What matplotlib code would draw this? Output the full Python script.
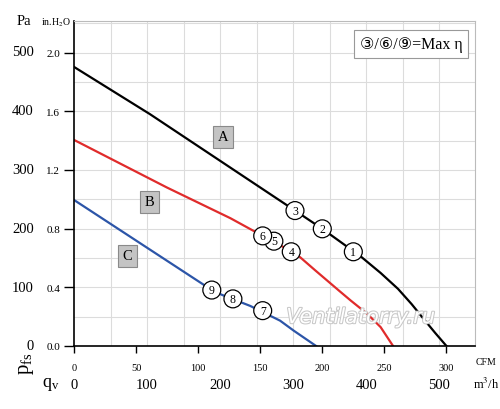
import numpy as np
import matplotlib
matplotlib.use("Agg")
from matplotlib import pyplot as plt
import matplotlib.transforms as mtransforms
import matplotlib.patheffects as pe

plt.rcParams['font.family'] = ['Liberation Serif', 'DejaVu Sans', 'Noto Sans CJK JP']
plt.rcParams['mathtext.fontset'] = 'stix'

PA_PER_INH2O = 249.09
M3H_PER_CFM = 1.699

# curve A (black), B (red), C (blue): flow in CFM, static pressure in Pa
a_cfm = [0, 61, 158, 178, 200, 231, 247, 261, 272, 282, 291, 300]
a_pa = [474, 394, 258, 230, 199, 152, 124, 97, 71, 45, 22, 0]
b_cfm = [0, 75, 126, 152, 160, 182, 194, 214, 223, 236, 247, 257]
b_pa = [350, 269, 217, 187, 179, 151, 129, 93, 77, 55, 32, 0]
c_cfm = [0, 111, 119, 142, 166, 177, 195]
c_pa = [248, 95, 87, 68, 43, 26, 0]

# operating points
pt_labels = ['1', '2', '3', '4', '5', '6', '7', '8', '9']
pt_cfm = [225, 200, 178, 175, 161, 152, 152, 128, 111]
pt_pa = [160, 199, 230, 160, 178, 187, 60, 80, 95]

curve_names = ['A', 'B', 'C']
name_cfm = [120, 61, 43]
name_pa = [355, 245, 153]

pa_ticks = [0, 100, 200, 300, 400, 500]
inh2o_ticks = [0.0, 0.4, 0.8, 1.2, 1.6, 2.0]
cfm_ticks = [0, 50, 100, 150, 200, 250, 300]
m3h_ticks = [0, 100, 200, 300, 400, 500]

fig = plt.figure(figsize=(5, 4.1), dpi=100)
ax = fig.add_axes([0.148, 0.1537, 0.802, 0.7927])
ax.set_xlim(0, 323)
ax.set_ylim(0, 552)

# grid every 50 m3/h and every 0.2 in.H2O
for v in np.arange(50, 551, 50):
    ax.axvline(v / M3H_PER_CFM, color='#dcdcdc', lw=0.8, zorder=0)
for v in np.arange(0.2, 2.21, 0.2):
    ax.axhline(v * PA_PER_INH2O, color='#dcdcdc', lw=0.8, zorder=0)

ax.plot(a_cfm, a_pa, color='black', lw=1.6, zorder=2)
ax.plot(b_cfm, b_pa, color='#e02b2b', lw=1.6, zorder=2)
ax.plot(c_cfm, c_pa, color='#2c55a8', lw=1.6, zorder=2)

for lab, x, y in zip(pt_labels, pt_cfm, pt_pa):
    ax.text(x, y, lab, ha='center', va='center', fontsize=8.5, zorder=4,
            bbox=dict(boxstyle='circle,pad=0.25', fc='white', ec='black', lw=0.9))

for lab, x, y in zip(curve_names, name_cfm, name_pa):
    ax.text(x, y, lab, ha='center', va='center', fontsize=10.5, zorder=4,
            bbox=dict(boxstyle='square,pad=0.3', fc='#c4c4c4', ec='#8a8a8a', lw=0.8))

ax.text(0.84, 0.929, '③/⑥/⑨=Max η', transform=ax.transAxes, ha='center', va='center',
        fontsize=11.5, bbox=dict(boxstyle='square,pad=0.35', fc='white', ec='#999999', lw=0.8), zorder=5)

ax.text(231, 49, 'Ventilatorry.ru', ha='center', va='center', fontsize=15, style='italic',
        family='DejaVu Sans', color='white', zorder=3,
        path_effects=[pe.withStroke(linewidth=1.5, foreground='#c8c8c8')])

# axes styling
for s in ['top', 'right']:
    ax.spines[s].set_color('#bbbbbb')
    ax.spines[s].set_linewidth(0.8)
for s in ['left', 'bottom']:
    ax.spines[s].set_linewidth(1.2)

ax.set_yticks([v * PA_PER_INH2O for v in inh2o_ticks])
ax.set_yticklabels([f'{v:.1f}' for v in inh2o_ticks], fontsize=8)
ax.set_xticks(cfm_ticks)
ax.set_xticklabels([str(v) for v in cfm_ticks], fontsize=7.5)
ax.tick_params(axis='y', length=7, width=1.0, pad=3)
ax.tick_params(axis='x', length=5, width=1.0, pad=7)

ytrans = mtransforms.blended_transform_factory(ax.transAxes, ax.transData)
for v in pa_ticks:
    ax.text(-0.10, v, str(v), transform=ytrans, ha='right', va='center', fontsize=10.5)

xtrans = mtransforms.blended_transform_factory(ax.transData, ax.transAxes)
for v in m3h_ticks:
    ax.text(v / M3H_PER_CFM, -0.118, str(v), transform=xtrans, ha='center', va='center', fontsize=10.5)

fig.text(0.034, 0.947, 'Pa', fontsize=10.5, va='center')
fig.text(0.082, 0.944, 'in.H$_2$O', fontsize=7, va='center')
fig.text(0.951, 0.115, 'CFM', fontsize=7, va='center')
fig.text(0.998, 0.062, 'm$^3$/h', fontsize=9, ha='right', va='center')
fig.text(0.054, 0.112, '$\\mathregular{p_{fs}}$', fontsize=15, rotation=90, ha='center', va='center')
fig.text(0.085, 0.062, '$\\mathregular{q_v}$', fontsize=13, va='center')

fig.savefig('out.png', dpi=100)
